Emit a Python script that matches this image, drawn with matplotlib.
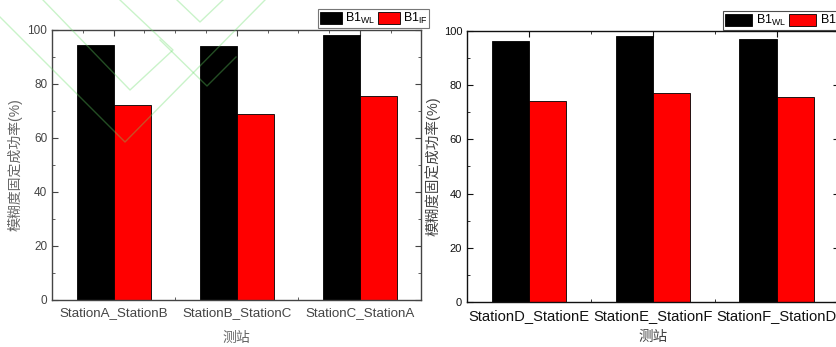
import numpy as np
import matplotlib
matplotlib.use("Agg")
import matplotlib.pyplot as plt
from matplotlib.lines import Line2D
from matplotlib.ticker import MultipleLocator

plt.rcParams['font.family'] = ['Liberation Sans', 'Noto Sans CJK SC', 'DejaVu Sans']
plt.rcParams['mathtext.fontset'] = 'custom'
plt.rcParams['mathtext.rm'] = 'Liberation Sans'

# data
pairs_left = ["StationA_StationB", "StationB_StationC", "StationC_StationA"]
wl_left = [94.5, 94.2, 98.3]
if_left = [72.2, 69.0, 75.7]

pairs_right = ["StationD_StationE", "StationE_StationF", "StationF_StationD"]
wl_right = [96.3, 98.2, 97.0]
if_right = [74.2, 77.0, 75.6]

ylabel = "模糊度固定成功率(%)"
xlabel = "测站"

W, H = 837, 347
fig = plt.figure(figsize=(W / 100, H / 100), dpi=100)


def px_rect(x0, x1, ytop, ybot):
    return [x0 / W, 1 - ybot / H, (x1 - x0) / W, (ybot - ytop) / H]


def draw_panel(ax, cats, wl, iff, col, tickfs, catfs, labfs, minor_x, labcol):
    x = np.arange(len(cats))
    w = 0.3
    b1 = ax.bar(x - w / 2, wl, w, color='black', edgecolor='black', lw=0.6, zorder=2)
    b2 = ax.bar(x + w / 2, iff, w, color='#ff0000', edgecolor='black', lw=0.6, zorder=2)
    ax.set_xlim(-0.5, len(cats) - 0.5)
    ax.set_ylim(0, 100)
    ax.set_axisbelow(True)
    ax.yaxis.set_major_locator(MultipleLocator(20))
    ax.yaxis.set_minor_locator(MultipleLocator(10))
    ax.set_xticks(x)
    ax.set_xticklabels(cats, fontsize=catfs, color=col)
    ax.xaxis.set_minor_locator(MultipleLocator(minor_x))
    ax.tick_params(which='both', direction='in', top=True, right=True,
                   colors=col, labelsize=tickfs)
    ax.tick_params(axis='x', which='major', length=4, pad=5, labelsize=catfs)
    ax.tick_params(axis='y', which='major', length=4)
    ax.tick_params(which='minor', length=2.5)
    for s in ax.spines.values():
        s.set_color(col)
        s.set_linewidth(1.0)
    ax.set_ylabel(ylabel, fontsize=labfs, color=labcol)
    ax.set_xlabel(xlabel, fontsize=labfs, color=labcol)
    return b1, b2


axL = fig.add_axes(px_rect(52, 421.5, 30, 300))
bL = draw_panel(axL, pairs_left, wl_left, if_left, '#444444', 8.5, 9.6, 10, 0.25, '#666666')
axL.yaxis.set_label_coords((15 - 52) / 369.5, 0.5)
axL.xaxis.set_label_coords(0.5, -(338 - 300) / 270)
axL.xaxis.label.set_va('center')
axL.yaxis.label.set_va('center')

axR = fig.add_axes(px_rect(467, 838.5, 31, 302))
bR = draw_panel(axR, pairs_right, wl_right, if_right, '#111111', 8, 10.6, 10.5, 0.5, '#444444')
axR.yaxis.set_label_coords((433 - 467) / 371.5, 0.5)
axR.xaxis.set_label_coords(0.5, -(337 - 302) / 271)
axR.xaxis.label.set_va('center')
axR.yaxis.label.set_va('center')

leg_kw = dict(ncol=2, frameon=True, fancybox=False, handlelength=1.8,
              handleheight=1.1, handletextpad=0.2, columnspacing=0.2,
              borderpad=0.15, borderaxespad=0, fontsize=9)
lgL = fig.legend(bL, [r'B1$_{\rm WL}$', r'B1$_{\rm IF}$'], loc='upper left',
                 bbox_to_anchor=(318 / W, 1 - 9 / H), **leg_kw)
lgL.get_frame().set_edgecolor('#555555')
lgL.get_frame().set_linewidth(0.8)
leg_kw['handlelength'] = 2.2
leg_kw['handletextpad'] = 0.3
lgR = fig.legend(bR, [r'B1$_{\rm WL}$', r'B1$_{\rm IF}$'], loc='upper left',
                 bbox_to_anchor=(723 / W, 1 - 11 / H), **leg_kw)
lgR.get_frame().set_edgecolor('#222222')
lgR.get_frame().set_linewidth(0.8)

# faint green watermark lines over the left panel
marks = [
    [(0, 17), (125, 142), (265, 0)],
    [(43, 0), (130, 90), (173, 50), (120, 0)],
    [(177, 0), (200, 22), (223, 0)],
    [(160, 40), (207, 86), (236, 57)],
]
for pts in marks:
    xs = [p[0] / W for p in pts]
    ys = [1 - p[1] / H for p in pts]
    fig.add_artist(Line2D(xs, ys, color='#66dd66', alpha=0.35, lw=1.0, zorder=10))

fig.savefig("out.png", dpi=100)
